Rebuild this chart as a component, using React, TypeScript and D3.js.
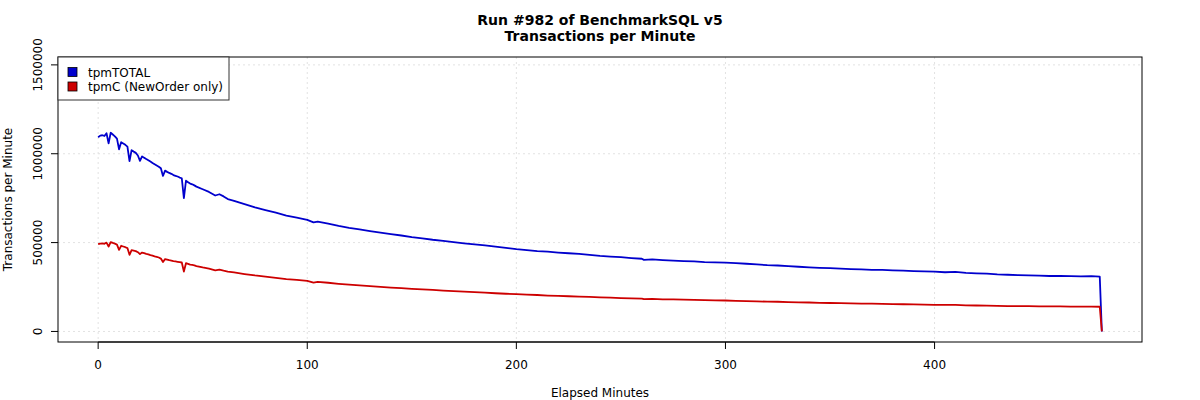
import React from "react";
import * as d3 from "d3";

const minutes = [
  0, 1, 2, 3, 4, 5, 6, 7, 8, 9,
  10, 11, 12, 13, 14, 15, 16, 17, 18, 19,
  20, 21, 22, 23, 24, 25, 26, 27, 28, 29,
  30, 31, 32, 33, 34, 35, 36, 37, 38, 39,
  40, 41, 42, 43, 44, 45, 46, 47,
  50, 53, 56, 58, 60, 62, 65,
  70, 75, 80, 85, 90, 95, 100,
  103, 105,
  110, 115, 120, 125, 130, 135, 140, 145, 150, 155,
  160, 165, 170, 175, 180, 185, 190, 195, 200, 205,
  210, 215, 220, 225, 230, 235, 240, 245, 250, 255,
  260, 261,
  265, 270, 275, 280, 285, 290, 295, 300, 305, 310,
  315, 320, 325, 330, 335, 340, 345, 350, 355, 360,
  365, 370, 375, 380, 385, 390, 395, 400, 405, 410,
  415, 420, 425, 430, 435, 440, 445, 450, 455, 460,
  465, 470, 475, 479, 480,
];

const tpmTotal = [
  1093000, 1102000, 1104000, 1100000, 1115000, 1058000, 1118000, 1108000, 1098000, 1085000,
  1025000, 1065000, 1058000, 1050000, 1040000, 958000, 1020000, 1012000, 1005000, 990000,
  960000, 985000, 978000, 970000, 963000, 956000, 948000, 941000, 934000, 927000,
  918000, 875000, 905000, 898000, 892000, 887000, 880000, 876000, 872000, 866000,
  862000, 750000, 848000, 840000, 832000, 828000, 822000, 815000,
  800000, 785000, 765000, 772000, 760000, 745000, 735000,
  716000, 698000, 683000, 668000, 652000, 640000, 628000,
  614000, 618000,
  607000, 594000, 583000, 574000, 565000, 556000, 548000, 540000, 531000, 524000,
  516000, 510000, 503000, 496000, 490000, 484000, 477000, 470000, 463000, 458000,
  452000, 449000, 444000, 440000, 436000, 431000, 425000, 421000, 418000, 413000,
  409000, 403000,
  405000, 401000, 398000, 396000, 394000, 390000, 389000, 387000, 384000, 381000,
  377000, 373000, 371000, 368000, 364000, 361000, 358000, 356000, 353000, 351000,
  349000, 347000, 346000, 344000, 342000, 340000, 338000, 337000, 333000, 335000,
  330000, 327000, 325000, 321000, 319000, 317000, 315000, 314000, 312000, 313000,
  311000, 310000, 311000, 308000, 0,
];

const tpmC = [
  491000, 494000, 495000, 493000, 500000, 478000, 503000, 498000, 494000, 489000,
  459000, 482000, 478000, 474000, 469000, 431000, 458000, 455000, 452000, 446000,
  435000, 444000, 441000, 437000, 434000, 430000, 427000, 423000, 420000, 416000,
  410000, 391000, 407000, 404000, 401000, 399000, 396000, 394000, 392000, 390000,
  388000, 337000, 384000, 380000, 376000, 374000, 372000, 368000,
  360000, 353000, 344000, 348000, 342000, 337000, 332000,
  323000, 315000, 309000, 302000, 295000, 290000, 285000,
  275000, 279000,
  274000, 268000, 263000, 259000, 255000, 251000, 247000, 244000, 240000, 237000,
  234000, 230000, 227000, 224000, 221000, 218000, 215000, 212000, 210000, 207000,
  205000, 202000, 200000, 198000, 196000, 194000, 192000, 190000, 188000, 186000,
  185000, 182000,
  183000, 181000, 180000, 179000, 178000, 176000, 175000, 174000, 172000, 171000,
  169000, 168000, 167000, 165000, 164000, 163000, 161000, 160000, 159000, 158000,
  157000, 156000, 155000, 154000, 153000, 152000, 151000, 150000, 149000, 149000,
  147000, 146000, 145000, 144000, 143000, 143000, 142000, 141000, 141000, 141000,
  140000, 140000, 140000, 139000, 0,
];

const xTicks = [0, 100, 200, 300, 400];
const yTicks = [0, 500000, 1000000, 1500000];
const seriesNames = ["tpmTOTAL", "tpmC (NewOrder only)"];
const seriesColors = ["#0000CD", "#CD0000"];
const titleLines = ["Run #982 of BenchmarkSQL v5", "Transactions per Minute"];

const W = 1200;
const H = 400;
const L = 58, R = 1142, T = 57, B = 342;
const FONT = "DejaVu Sans, sans-serif";

export default function App() {
  const x = d3.scaleLinear().domain([-19.2, 499.2]).range([L, R]);
  const y = d3.scaleLinear().domain([-59400, 1544400]).range([B, T]);

  const mk = (vals: number[]) =>
    d3
      .line<number>()
      .x((_, i) => x(minutes[i]))
      .y((v) => y(v))(vals) || "";

  const series = [tpmTotal, tpmC];

  return (
    <svg
      width={W}
      height={H}
      style={{ position: "fixed", left: 0, top: 0, background: "#fff" }}
      fontFamily={FONT}
    >
      <rect x={0} y={0} width={W} height={H} fill="#fff" />
      {titleLines.map((t, i) => (
        <text
          key={t}
          x={(L + R) / 2}
          y={25 + i * 16}
          textAnchor="middle"
          fontSize={14}
          fontWeight="bold"
          fill="#000"
        >
          {t}
        </text>
      ))}
      <g stroke="#e2e2e2" strokeWidth={1} strokeDasharray="2,3">
        {xTicks.map((t) => (
          <line key={"gx" + t} x1={x(t)} x2={x(t)} y1={T} y2={B} />
        ))}
        {yTicks.map((t) => (
          <line key={"gy" + t} x1={L} x2={R} y1={y(t)} y2={y(t)} />
        ))}
      </g>
      {series.map((s, i) => (
        <path
          key={seriesNames[i]}
          d={mk(s)}
          fill="none"
          stroke={seriesColors[i]}
          strokeWidth={1.8}
          strokeLinejoin="round"
        />
      ))}
      <rect x={L} y={T} width={R - L} height={B - T} fill="none" stroke="#000" strokeWidth={1} />
      <g>
        <line x1={x(xTicks[0])} x2={x(xTicks[xTicks.length - 1])} y1={B} y2={B} stroke="#000" />
        {xTicks.map((t) => (
          <g key={"xt" + t}>
            <line x1={x(t)} x2={x(t)} y1={B} y2={B + 7} stroke="#000" />
            <text x={x(t)} y={368.5} textAnchor="middle" fontSize={12} fill="#000">
              {t}
            </text>
          </g>
        ))}
        <text x={(L + R) / 2} y={397} textAnchor="middle" fontSize={12} fill="#000">
          Elapsed Minutes
        </text>
      </g>
      <g>
        {yTicks.map((t) => (
          <g key={"yt" + t}>
            <line x1={L - 7} x2={L} y1={y(t)} y2={y(t)} stroke="#000" />
            <text
              transform={`translate(41.5,${y(t)}) rotate(-90)`}
              textAnchor="middle"
              fontSize={12}
              fill="#000"
            >
              {t}
            </text>
          </g>
        ))}
        <text
          transform={`translate(12,${(T + B) / 2}) rotate(-90)`}
          textAnchor="middle"
          fontSize={12}
          fill="#000"
        >
          Transactions per Minute
        </text>
      </g>
      <g>
        <rect x={L} y={T} width={171} height={43} fill="#fff" stroke="#333" strokeWidth={1} />
        {seriesNames.map((n, i) => (
          <g key={"lg" + n}>
            <rect
              x={68}
              y={67.5 + i * 14.5}
              width={9}
              height={9}
              fill={seriesColors[i]}
              stroke="#000"
              strokeWidth={0.8}
            />
            <text x={88} y={76.5 + i * 14.5} fontSize={12} fill="#000">
              {n}
            </text>
          </g>
        ))}
      </g>
    </svg>
  );
}
